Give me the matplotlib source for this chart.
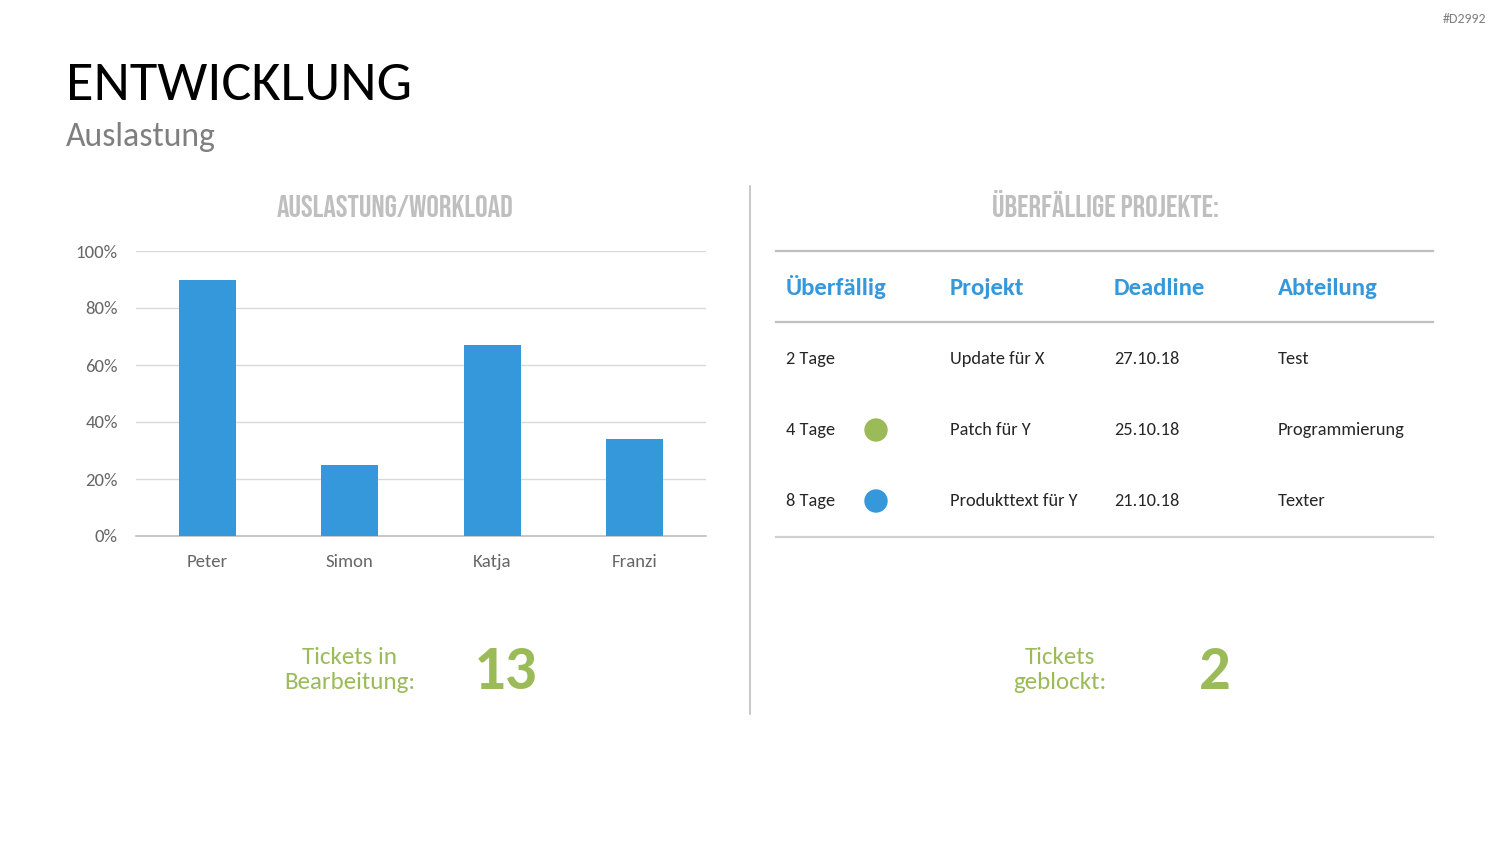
import matplotlib
matplotlib.use("Agg")
import matplotlib.pyplot as plt
from matplotlib.lines import Line2D
from matplotlib.patches import Ellipse
from matplotlib import font_manager

# ---------------- data ----------------
names = ["Peter", "Simon", "Katja", "Franzi"]
workload = [90, 25, 67, 34]
yticks = [0, 20, 40, 60, 80, 100]

table_header = ["Überfällig", "Projekt", "Deadline", "Abteilung"]
overdue = ["2 Tage", "4 Tage", "8 Tage"]
projects = ["Update für X", "Patch für Y", "Produkttext für Y"]
deadlines = ["27.10.18", "25.10.18", "21.10.18"]
departments = ["Test", "Programmierung", "Texter"]
dot_colors = [None, "#9BBB59", "#3498DB"]

tickets_in_work = 13
tickets_blocked = 2

BLUE = "#3498DB"
GREEN = "#9BBB59"

avail = {f.name for f in font_manager.fontManager.ttflist}

def pick(cands):
    for c in cands:
        if c in avail:
            return c
    return "DejaVu Sans"

BODY = pick(["Carlito", "Lato", "Open Sans"])
HEADF = pick(["Bebas Neue", "Oswald", "Open Sans Condensed", "IBM Plex Sans Condensed"])
FONT = [BODY, "DejaVu Sans"]
HEAD = [HEADF, "DejaVu Sans"]

W, H = 1500, 844
fig = plt.figure(figsize=(15, 8.44), dpi=100)
fig.patch.set_facecolor("white")

def fx(x):
    return x / W

def fy(y):
    return 1 - y / H

# ---------------- titles ----------------
fig.text(fx(66), fy(100), "ENTWICKLUNG", family=FONT, fontsize=40.5, color="black",
         ha="left", va="baseline")
fig.text(fx(66), fy(146), "Auslastung", family=FONT, fontsize=24.3, color="#7F7F7F",
         ha="left", va="baseline")
fig.text(fx(1486), fy(19), "#D2992", family=FONT, fontsize=10, color="#7F7F7F",
         ha="right", va="center")

# panel headings
fig.text(fx(395), fy(217), "AUSLASTUNG/WORKLOAD", family=HEAD,
         fontweight="bold", fontsize=22.5, color="#BFBFBF", ha="center", va="baseline")
fig.text(fx(1105), fy(217), "ÜBERFÄLLIGE PROJEKTE:", family=HEAD,
         fontweight="bold", fontsize=22.5, color="#BFBFBF", ha="center", va="baseline")

# divider
fig.add_artist(Line2D([fx(750), fx(750)], [fy(186), fy(714)], color="#BFBFBF", lw=1.2))

# ---------------- bar chart ----------------
ax = fig.add_axes([fx(136), fy(536), fx(706) - fx(136), (536 - 251) / H])
x = range(len(names))
ax.bar(x, workload, width=0.4, color=BLUE, zorder=3)
ax.set_xlim(-0.5, len(names) - 0.5)
ax.set_ylim(0, 100)
ax.set_yticks(yticks)
ax.set_yticklabels([f"{v}%" for v in yticks], family=FONT, fontsize=13.5, color="#666666")
ax.set_xticks(list(x))
ax.set_xticklabels(names, family=FONT, fontsize=13.5, color="#666666")
ax.tick_params(axis="both", length=0)
ax.tick_params(axis="y", pad=13)
ax.tick_params(axis="x", pad=13)
for s in ["top", "right", "left"]:
    ax.spines[s].set_visible(False)
ax.spines["bottom"].set_color("#BFBFBF")
ax.spines["bottom"].set_linewidth(1.2)
ax.grid(axis="y", color="#D9D9D9", lw=1, zorder=0)
ax.set_axisbelow(True)

# ---------------- table ----------------
for yy, lw, c in [(251, 1.6, "#BFBFBF"), (322, 1.6, "#BFBFBF"), (537, 1.6, "#D0D0D0")]:
    fig.add_artist(Line2D([fx(776), fx(1433)], [fy(yy), fy(yy)], color=c, lw=lw))

col_x = [785, 949, 1113, 1277]
for cx, h in zip(col_x, table_header):
    fig.text(fx(cx + 1), fy(295), h, family=FONT, fontweight="bold", fontsize=17.8,
             color=BLUE, ha="left", va="baseline")

row_y = [359, 430, 501]
for i, ry in enumerate(row_y):
    for cx, val in zip(col_x, [overdue[i], projects[i], deadlines[i], departments[i]]):
        fig.text(fx(cx + 1), fy(ry), val, family=FONT, fontsize=13.2, color="#262626",
                 ha="left", va="center")
    if dot_colors[i]:
        fig.add_artist(Ellipse((fx(876), fy(ry)), width=22 / W, height=22 / H,
                               color=dot_colors[i], transform=fig.transFigure))

# ---------------- ticket counts ----------------
fig.text(fx(350), fy(670), "Tickets in\nBearbeitung:", family=FONT, fontsize=18, color=GREEN,
         ha="center", va="center", linespacing=1.25)
fig.text(fx(506), fy(689), str(tickets_in_work), family=FONT, fontweight="bold", fontsize=45,
         color=GREEN, ha="center", va="baseline")
fig.text(fx(1060), fy(670), "Tickets\ngeblockt:", family=FONT, fontsize=18, color=GREEN,
         ha="center", va="center", linespacing=1.25)
fig.text(fx(1215), fy(689), str(tickets_blocked), family=FONT, fontweight="bold", fontsize=45,
         color=GREEN, ha="center", va="baseline")

fig.savefig("out.png", dpi=100, facecolor="white")
